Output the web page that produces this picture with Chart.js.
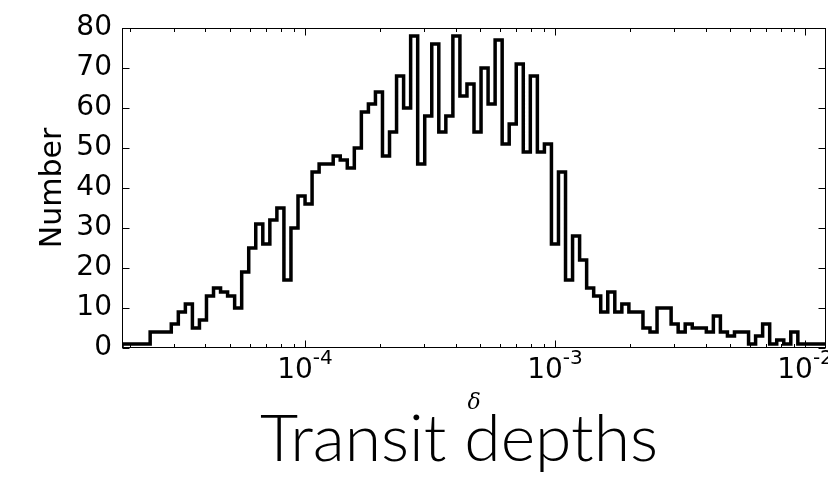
<!DOCTYPE html>
<html>
<head>
<meta charset="utf-8">
<title>Transit depths</title>
<script src="https://cdn.jsdelivr.net/npm/chart.js"></script>
<style>
  html, body { margin: 0; padding: 0; background: #fff; }
  #wrap { width: 828px; height: 480px; }
</style>
</head>
<body>
<div id="wrap"><canvas id="depthChart" width="828" height="480"></canvas></div>
<script>
// Histogram of transit depths: 100 log-spaced bins between BIN_MIN and BIN_MAX
const BIN_MIN = 1.854e-5;
const BIN_MAX = 1.213e-2;
const N_BINS = 100;

const counts = [
  1, 1, 1, 1, 1, 4, 4, 4, 6, 9,
  11, 5, 7, 13, 15, 14, 13, 10, 19, 25,
  31, 26, 32, 35, 17, 30, 38, 36, 44, 46,
  46, 48, 47, 45, 50, 59, 61, 64, 48, 54,
  68, 60, 78, 46, 58, 76, 54, 58, 78, 63,
  66, 54, 70, 61, 77, 51, 56, 71, 49, 68,
  49, 51, 26, 44, 17, 28, 22, 15, 13, 9,
  14, 9, 11, 9, 9, 5, 4, 10, 10, 6,
  4, 6, 5, 5, 4, 8, 4, 3, 4, 4,
  1, 3, 6, 1, 2, 1, 4, 1, 1, 1
];

const yTicks = [0, 10, 20, 30, 40, 50, 60, 70, 80];
const xMajorTicks = [1e-4, 1e-3, 1e-2];
const xTickExponents = ['-4', '-3', '-2'];

const tickFont = '28px "DejaVu Sans"';
const supFont = '20px "DejaVu Sans"';
const captionFont = '300 66px Lato, Roboto, "Open Sans", sans-serif';

// bin edges, then the outline of a step histogram (drops to zero at both ends)
const edges = [];
for (let i = 0; i <= N_BINS; i++) {
  edges.push(BIN_MIN * Math.pow(BIN_MAX / BIN_MIN, i / N_BINS));
}
const steps = [{ x: edges[0], y: 0 }];
counts.forEach((c, i) => steps.push({ x: edges[i], y: c }));
steps.push({ x: edges[N_BINS], y: counts[N_BINS - 1] });
steps.push({ x: edges[N_BINS], y: 0 });

// box frame, inward ticks on all four sides, 10^n labels and the caption
const frame = {
  id: 'frame',
  afterDraw(chart) {
    const { ctx, chartArea: a, scales: { x, y } } = chart;
    const left = Math.round(a.left) + 0.5;
    const right = Math.round(a.right) - 0.5;
    const top = Math.round(a.top) + 0.5;
    const bottom = Math.round(a.bottom) - 0.5;

    ctx.save();
    ctx.strokeStyle = '#000';
    ctx.lineWidth = 1;
    ctx.beginPath();
    for (let e = -5; e <= -2; e++) {
      for (let m = 1; m <= 9; m++) {
        const v = m * Math.pow(10, e);
        if (v < x.min || v > x.max) continue;
        const px = Math.round(x.getPixelForValue(v)) + 0.5;
        const len = m === 1 ? 7 : 3.5;
        ctx.moveTo(px, bottom); ctx.lineTo(px, bottom - len);
        ctx.moveTo(px, top); ctx.lineTo(px, top + len);
      }
    }
    yTicks.forEach(v => {
      const py = Math.round(y.getPixelForValue(v)) + 0.5;
      ctx.moveTo(left, py); ctx.lineTo(left + 7, py);
      ctx.moveTo(right, py); ctx.lineTo(right - 7, py);
    });
    ctx.stroke();
    ctx.strokeRect(left, top, right - left, bottom - top);

    ctx.fillStyle = '#000';
    ctx.textBaseline = 'alphabetic';
    ctx.textAlign = 'left';
    xMajorTicks.forEach((v, i) => {
      ctx.font = tickFont;
      const wb = ctx.measureText('10').width;
      ctx.font = supFont;
      const ws = ctx.measureText(xTickExponents[i]).width;
      const x0 = x.getPixelForValue(v) - (wb + ws) / 2;
      ctx.font = tickFont;
      ctx.fillText('10', x0, a.bottom + 30);
      ctx.font = supFont;
      ctx.fillText(xTickExponents[i], x0 + wb, a.bottom + 16);
    });

    ctx.font = captionFont;
    ctx.textAlign = 'center';
    ctx.fillText('Transit depths', 459, 461);
    ctx.restore();
  }
};

new Chart(document.getElementById('depthChart'), {
  type: 'line',
  data: {
    datasets: [{
      data: steps,
      stepped: 'after',
      borderColor: '#000',
      borderWidth: 3.5,
      borderJoinStyle: 'miter',
      pointRadius: 0,
      fill: false
    }]
  },
  options: {
    responsive: false,
    animation: false,
    layout: { padding: { top: 28, right: 2, left: 0, bottom: 80 } },
    plugins: {
      legend: { display: false },
      tooltip: { enabled: false }
    },
    scales: {
      x: {
        type: 'logarithmic',
        min: BIN_MIN,
        max: BIN_MAX,
        grid: { display: false, drawTicks: false },
        border: { display: false },
        ticks: { display: false },
        title: {
          display: true,
          text: 'δ',
          color: '#000',
          font: { family: 'DejaVu Serif', style: 'italic', size: 22, lineHeight: 1 },
          padding: { top: 0, bottom: -14 }
        },
        afterFit: s => { s.height = 52; }
      },
      y: {
        min: 0,
        max: 80,
        afterBuildTicks: s => { s.ticks = yTicks.map(v => ({ value: v })); },
        grid: { display: false, drawTicks: false },
        border: { display: false },
        ticks: { color: '#000', padding: 10, font: { family: 'DejaVu Sans', size: 28 } },
        title: {
          display: true,
          text: 'Number',
          color: '#000',
          font: { family: 'DejaVu Sans', size: 30, lineHeight: 1.2 },
          padding: { top: 35, bottom: 0 }
        },
        afterFit: s => { s.width = 122; }
      }
    }
  },
  plugins: [frame]
});
</script>
</body>
</html>
